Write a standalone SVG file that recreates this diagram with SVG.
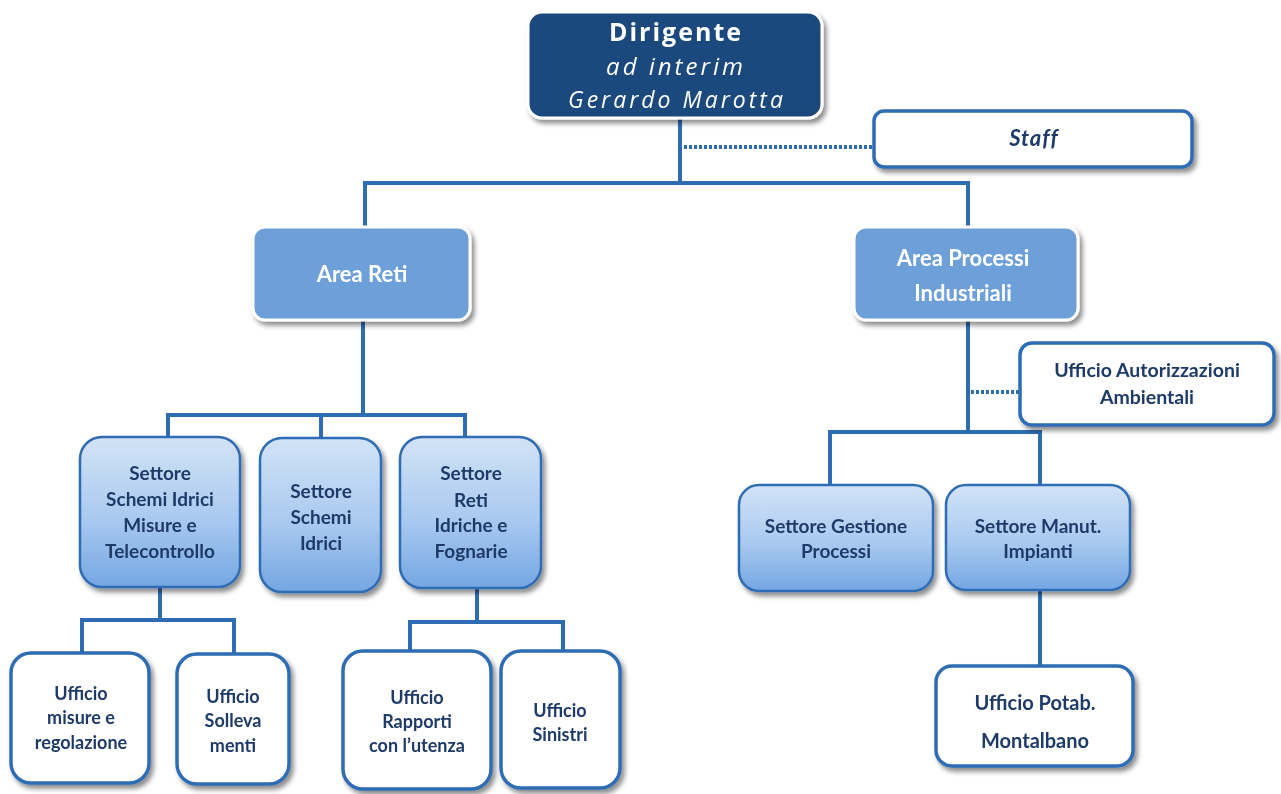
<svg xmlns="http://www.w3.org/2000/svg" width="1281" height="794" viewBox="0 0 1281 794">
  <defs>
    <linearGradient id="settoreFill" x1="0" y1="0" x2="0" y2="1">
      <stop offset="0" stop-color="#d2e3f6"/>
      <stop offset="0.55" stop-color="#a9c9ef"/>
      <stop offset="1" stop-color="#74a6e3"/>
    </linearGradient>
    <filter id="shadow" x="-10%" y="-10%" width="125%" height="130%">
      <feGaussianBlur in="SourceAlpha" stdDeviation="2.5"/>
      <feOffset dx="3" dy="4" result="b"/>
      <feComponentTransfer><feFuncA type="linear" slope="0.45"/></feComponentTransfer>
      <feMerge><feMergeNode/><feMergeNode in="SourceGraphic"/></feMerge>
    </filter>
  </defs>
  <style>
    .conn { stroke: #2e6db4; stroke-width: 4; fill: none; }
    .dot { stroke: #2e6db4; stroke-width: 4; fill: none; stroke-dasharray: 3 2; }
    .head { fill: #1b4a7d; stroke: #ffffff; stroke-width: 3; }
    .area { fill: #6d9fd9; stroke: #ffffff; stroke-width: 3; }
    .settore { fill: url(#settoreFill); stroke: #2e6db4; stroke-width: 2.5; }
    .ufficio { fill: #ffffff; stroke: #2e6db4; stroke-width: 3.5; }
    text { font-family: Lato, "Open Sans", "Liberation Sans", sans-serif; text-anchor: middle; font-weight: bold; }
    .w { fill: #ffffff; font-size: 22px; }
    .n { fill: #1f3a68; font-size: 19px; }
    .s { fill: #1f3a68; font-size: 18px; }
    .hd { font-family: "Open Sans", "Liberation Sans", sans-serif; fill: #ffffff; }
    .hd1 { font-size: 25px; letter-spacing: 2px; font-weight: bold; }
    .hd2 { font-size: 24px; letter-spacing: 3px; font-weight: normal; font-style: italic; }
    .hd3 { font-size: 23px; letter-spacing: 3px; font-weight: normal; font-style: italic; }
  </style>

  <!-- connectors -->
  <g id="connectors">
    <path class="conn" d="M680 118 V183 M365 183 H968 M365 181 V228 M968 181 V228"/>
    <path class="dot" d="M684 147 H873"/>
    <path class="conn" d="M363 320 V415 M168 415 H465 M168 413 V437 M321 413 V438 M465 413 V437"/>
    <path class="conn" d="M968 320 V432 M828 432 H1040 M830 430 V485 M1040 430 V485"/>
    <path class="dot" d="M971 392 H1020"/>
    <path class="conn" d="M160 587 V620 M82 620 H236 M82 618 V653 M234 618 V654"/>
    <path class="conn" d="M477 588 V622 M410 622 H563 M410 620 V651 M563 620 V651"/>
    <path class="conn" d="M1040 590 V666"/>
  </g>

  <!-- top -->
  <g id="dirigente" filter="url(#shadow)">
    <rect class="head" x="528" y="12" width="294" height="106" rx="14"/>
    <text class="hd hd1" x="676" y="41">Dirigente</text>
    <text class="hd hd2" x="676" y="75">ad interim</text>
    <text class="hd hd3" x="677" y="108">Gerardo Marotta</text>
  </g>

  <g id="staff" filter="url(#shadow)">
    <rect class="ufficio" x="874" y="111" width="318" height="56" rx="10"/>
    <text class="n" x="1034" y="146" font-style="italic" style="font-size:22px;letter-spacing:1px">Staff</text>
  </g>

  <!-- areas -->
  <g id="area-reti" filter="url(#shadow)">
    <rect class="area" x="253" y="227" width="217" height="93" rx="12"/>
    <text class="w" x="362" y="282">Area Reti</text>
  </g>
  <g id="area-processi" filter="url(#shadow)">
    <rect class="area" x="854" y="227" width="224" height="93" rx="12"/>
    <text class="w" x="963" y="266">Area Processi</text>
    <text class="w" x="963" y="301">Industriali</text>
  </g>

  <g id="uff-autorizzazioni" filter="url(#shadow)">
    <rect class="ufficio" x="1020" y="343" width="254" height="82" rx="12"/>
    <text class="s" x="1147" y="377" style="font-size:19.5px">Ufficio Autorizzazioni</text>
    <text class="s" x="1147" y="404" style="font-size:19.5px">Ambientali</text>
  </g>

  <!-- settori, Area Reti -->
  <g id="settore-schemi-misure" filter="url(#shadow)">
    <rect class="settore" x="80" y="437" width="160" height="150" rx="22"/>
    <text class="n" x="160" y="480">Settore</text>
    <text class="n" x="160" y="506">Schemi Idrici</text>
    <text class="n" x="160" y="532">Misure e</text>
    <text class="n" x="160" y="558">Telecontrollo</text>
  </g>
  <g id="settore-schemi" filter="url(#shadow)">
    <rect class="settore" x="260" y="438" width="121" height="154" rx="22"/>
    <text class="n" x="321" y="498">Settore</text>
    <text class="n" x="321" y="524">Schemi</text>
    <text class="n" x="321" y="550">Idrici</text>
  </g>
  <g id="settore-reti" filter="url(#shadow)">
    <rect class="settore" x="400" y="437" width="141" height="151" rx="22"/>
    <text class="n" x="471" y="480">Settore</text>
    <text class="n" x="471" y="507">Reti</text>
    <text class="n" x="471" y="532">Idriche e</text>
    <text class="n" x="471" y="558">Fognarie</text>
  </g>

  <!-- settori, Area Processi -->
  <g id="settore-gestione" filter="url(#shadow)">
    <rect class="settore" x="739" y="485" width="194" height="106" rx="20"/>
    <text class="n" x="836" y="533">Settore Gestione</text>
    <text class="n" x="836" y="558">Processi</text>
  </g>
  <g id="settore-manut" filter="url(#shadow)">
    <rect class="settore" x="946" y="485" width="184" height="105" rx="20"/>
    <text class="n" x="1038" y="533">Settore Manut.</text>
    <text class="n" x="1038" y="558">Impianti</text>
  </g>

  <!-- uffici -->
  <g id="uff-misure" filter="url(#shadow)">
    <rect class="ufficio" x="11" y="653" width="138" height="130" rx="20"/>
    <text class="s" x="81" y="700">Ufficio</text>
    <text class="s" x="81" y="724">misure e</text>
    <text class="s" x="81" y="749">regolazione</text>
  </g>
  <g id="uff-sollevamenti" filter="url(#shadow)">
    <rect class="ufficio" x="177" y="654" width="112" height="130" rx="20"/>
    <text class="s" x="233" y="703">Ufficio</text>
    <text class="s" x="233" y="727">Solleva</text>
    <text class="s" x="233" y="752">menti</text>
  </g>
  <g id="uff-rapporti" filter="url(#shadow)">
    <rect class="ufficio" x="343" y="651" width="148" height="138" rx="20"/>
    <text class="s" x="417" y="704">Ufficio</text>
    <text class="s" x="417" y="728">Rapporti</text>
    <text class="s" x="417" y="752">con l’utenza</text>
  </g>
  <g id="uff-sinistri" filter="url(#shadow)">
    <rect class="ufficio" x="501" y="651" width="119" height="137" rx="20"/>
    <text class="s" x="560" y="717">Ufficio</text>
    <text class="s" x="560" y="741">Sinistri</text>
  </g>
  <g id="uff-potab" filter="url(#shadow)">
    <rect class="ufficio" x="936" y="666" width="197" height="100" rx="16"/>
    <text class="s" x="1035" y="710" style="font-size:20px">Ufficio Potab.</text>
    <text class="s" x="1035" y="748" style="font-size:20px">Montalbano</text>
  </g>
</svg>
